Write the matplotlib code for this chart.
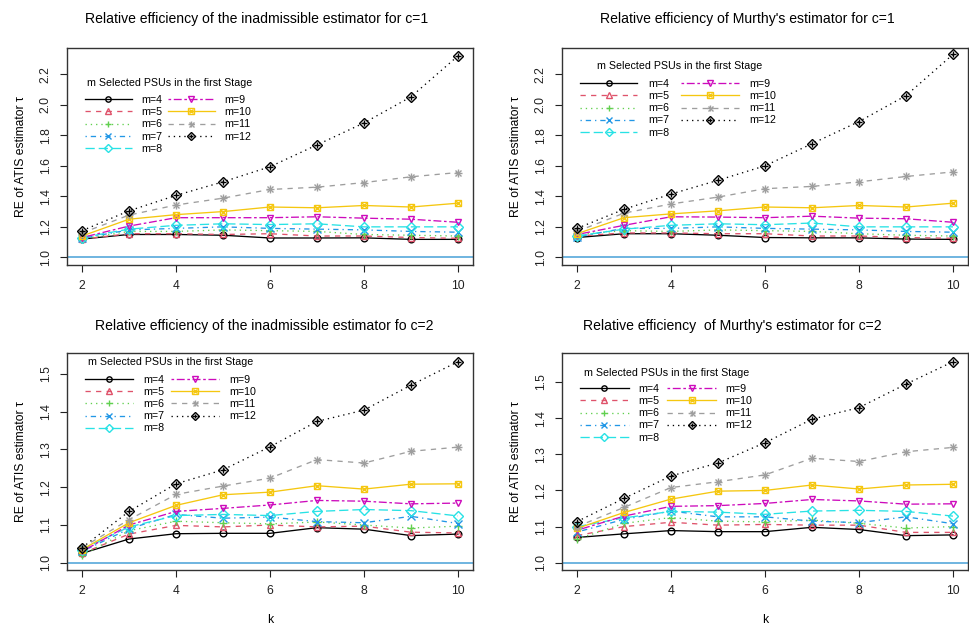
import matplotlib.pyplot as plt
from matplotlib.legend_handler import HandlerTuple

plt.rcParams['font.family'] = ['Liberation Sans', 'DejaVu Sans']

k = [2, 3, 4, 5, 6, 7, 8, 9, 10]
m_labels = ['m=4', 'm=5', 'm=6', 'm=7', 'm=8', 'm=9', 'm=10', 'm=11', 'm=12']

# RE values, one row per m (4..12), one column per k (2..10)
inadm_c1 = [
    [1.12, 1.150, 1.150, 1.145, 1.127, 1.127, 1.128, 1.118, 1.118],
    [1.12, 1.155, 1.155, 1.150, 1.155, 1.140, 1.140, 1.130, 1.125],
    [1.12, 1.170, 1.170, 1.180, 1.175, 1.170, 1.150, 1.145, 1.140],
    [1.125, 1.180, 1.190, 1.200, 1.190, 1.185, 1.180, 1.170, 1.165],
    [1.13, 1.185, 1.210, 1.220, 1.215, 1.220, 1.200, 1.200, 1.200],
    [1.13, 1.205, 1.260, 1.260, 1.260, 1.266, 1.257, 1.250, 1.230],
    [1.14, 1.250, 1.280, 1.300, 1.330, 1.325, 1.340, 1.330, 1.355],
    [1.16, 1.277, 1.343, 1.388, 1.445, 1.460, 1.490, 1.528, 1.556],
    [1.175, 1.305, 1.406, 1.495, 1.594, 1.737, 1.881, 2.052, 2.320],
]
murthy_c1 = [
    [1.13, 1.155, 1.155, 1.145, 1.130, 1.128, 1.128, 1.120, 1.118],
    [1.14, 1.160, 1.160, 1.155, 1.155, 1.140, 1.140, 1.130, 1.125],
    [1.15, 1.175, 1.170, 1.180, 1.175, 1.170, 1.155, 1.145, 1.140],
    [1.135, 1.190, 1.190, 1.200, 1.190, 1.185, 1.180, 1.170, 1.165],
    [1.14, 1.185, 1.210, 1.220, 1.214, 1.225, 1.200, 1.200, 1.200],
    [1.15, 1.210, 1.266, 1.264, 1.260, 1.270, 1.257, 1.253, 1.230],
    [1.155, 1.260, 1.285, 1.305, 1.330, 1.325, 1.340, 1.330, 1.355],
    [1.17, 1.290, 1.350, 1.395, 1.450, 1.465, 1.495, 1.530, 1.560],
    [1.19, 1.315, 1.415, 1.505, 1.600, 1.745, 1.890, 2.060, 2.330],
]
inadm_c2 = [
    [1.025, 1.063, 1.077, 1.078, 1.078, 1.093, 1.089, 1.072, 1.076],
    [1.025, 1.076, 1.099, 1.095, 1.100, 1.095, 1.097, 1.081, 1.079],
    [1.020, 1.085, 1.110, 1.106, 1.103, 1.108, 1.100, 1.092, 1.097],
    [1.030, 1.090, 1.128, 1.118, 1.121, 1.109, 1.106, 1.123, 1.104],
    [1.035, 1.095, 1.125, 1.128, 1.125, 1.136, 1.141, 1.138, 1.124],
    [1.030, 1.100, 1.136, 1.144, 1.153, 1.165, 1.163, 1.156, 1.158],
    [1.035, 1.106, 1.152, 1.180, 1.187, 1.204, 1.195, 1.208, 1.209],
    [1.040, 1.114, 1.181, 1.203, 1.224, 1.273, 1.264, 1.295, 1.306],
    [1.040, 1.136, 1.209, 1.246, 1.307, 1.374, 1.404, 1.470, 1.532],
]
murthy_c2 = [
    [1.070, 1.080, 1.089, 1.086, 1.086, 1.098, 1.092, 1.075, 1.077],
    [1.075, 1.100, 1.112, 1.104, 1.106, 1.104, 1.104, 1.084, 1.084],
    [1.065, 1.109, 1.125, 1.115, 1.113, 1.118, 1.109, 1.096, 1.100],
    [1.085, 1.120, 1.143, 1.127, 1.127, 1.115, 1.111, 1.127, 1.108],
    [1.100, 1.124, 1.142, 1.140, 1.134, 1.143, 1.145, 1.142, 1.129],
    [1.090, 1.129, 1.156, 1.158, 1.164, 1.175, 1.171, 1.162, 1.163],
    [1.095, 1.139, 1.176, 1.198, 1.200, 1.215, 1.204, 1.215, 1.217],
    [1.100, 1.153, 1.208, 1.224, 1.243, 1.289, 1.280, 1.307, 1.319],
    [1.114, 1.178, 1.240, 1.276, 1.332, 1.397, 1.429, 1.494, 1.556],
]

titles = [
    'Relative efficiency of the inadmissible estimator for c=1',
    "Relative efficiency of Murthy's estimator for c=1",
    'Relative efficiency of the inadmissible estimator fo c=2',
    "Relative efficiency  of Murthy's estimator for c=2",
]
legend_title = 'm Selected PSUs in the first Stage'

# R default palette / lty / pch cycle
colors = ['#000000', '#DF536B', '#61D04F', '#2297E6', '#28E2E5',
          '#CD0BBC', '#F5C710', '#9E9E9E', '#000000']
dashes = [None, (4, 4), (1, 3), (1, 3, 4, 3), (7, 3), (2, 2, 6, 2),
          None, (4, 4), (1, 3)]
# main marker, overlay marker
markers = [('o', None), ('^', None), ('+', None), ('x', None), ('D', None),
           ('v', None), ('s', 'x'), ('+', 'x'), ('D', '+')]

W, H = 970, 629
fig = plt.figure(figsize=(W / 100, H / 100), dpi=100)

rects = [(67, 48), (562, 48), (67, 353), (562, 353)]
panels = [inadm_c1, murthy_c1, inadm_c2, murthy_c2]
ylims = [(0.95, 2.372), (0.95, 2.372), (0.981, 1.555), (0.98, 1.58)]
yticks = [[1.0, 1.2, 1.4, 1.6, 1.8, 2.0, 2.2]] * 2 + [[1.0, 1.1, 1.2, 1.3, 1.4, 1.5]] * 2
title_x = [0.468, 0.456, 0.485, 0.42]
title_pad = [18, 18, 16.5, 16.5]
# legend layout per panel (the source panels were exported at slightly different scales)
leg_anchor_y = [0.783, 0.857, 0.899, 0.857]
leg_handlelen = [4.5, 5.5, 4.6, 4.7]
leg_textpad = [0.86, 1.05, 0.96, 0.86]
leg_colspace = [0.58, 1.15, 0.67, 0.77]
leg_title_pos = [(0.252, 0.839), (0.29, 0.917), (0.256, 0.959), (0.257, 0.908)]

for i, (x0, y0) in enumerate(rects):
    ax = fig.add_axes([x0 / W, (H - y0 - 217) / H, 406 / W, 217 / H])
    handles = []
    for j, vals in enumerate(panels[i]):
        mk, ov = markers[j]
        ms = 4.8 if mk not in ('+', 'x') else 5.5
        ln, = ax.plot(k, vals, color=colors[j], lw=0.95, marker=mk, ms=ms,
                      mfc='none', mec=colors[j], mew=1.0)
        if dashes[j] is not None:
            ln.set_dashes(dashes[j])
        h = ln
        if ov is not None:
            o, = ax.plot(k, vals, ls='none', marker=ov,
                         ms=ms - 1 if j != 7 else 4.5,
                         mec=colors[j], mew=1.0)
            h = (ln, o)
        handles.append(h)
    ax.axhline(1.0, color='#56A8DA', lw=1.2, zorder=0)
    ax.set_xlim(1.68, 10.32)
    ax.set_ylim(*ylims[i])
    ax.set_xticks([2, 4, 6, 8, 10])
    ax.set_yticks(yticks[i])
    ax.set_yticklabels(['%.1f' % v for v in yticks[i]], rotation=90, va='center')
    ax.tick_params(direction='out', length=5, width=0.8, labelsize=8.7,
                   pad=6, colors='#222222')
    for s in ax.spines.values():
        s.set_color('#333333')
        s.set_linewidth(1.0)
    ax.set_ylabel('RE of ATIS estimator τ', fontsize=8.7, labelpad=9)
    if i >= 2:
        ax.set_xlabel('k', fontsize=8.7, labelpad=12)
    ax.set_title(titles[i], fontsize=10.1, x=title_x[i], pad=title_pad[i])
    ax.text(*leg_title_pos[i], legend_title, transform=ax.transAxes,
            fontsize=7.7, ha='center', va='center')
    ax.legend(handles, m_labels, ncol=2, frameon=False, fontsize=7.7,
              loc='upper left', bbox_to_anchor=(0.0443, leg_anchor_y[i]),
              handlelength=leg_handlelen[i] * 7.5 / 7.7,
              handletextpad=leg_textpad[i] * 7.5 / 7.7,
              columnspacing=leg_colspace[i] * 7.5 / 7.7, labelspacing=0.2,
              borderpad=0, borderaxespad=0, markerscale=0.8,
              handler_map={tuple: HandlerTuple(ndivide=1)})

fig.savefig('out.png', dpi=100)
